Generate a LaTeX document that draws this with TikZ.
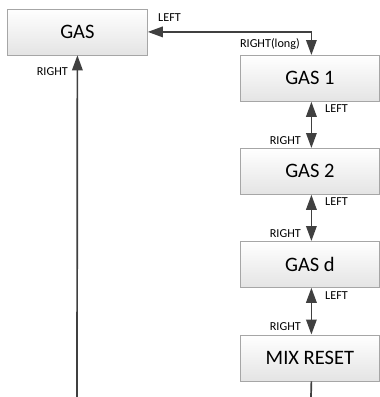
\documentclass[tikz,border=0pt]{standalone}
\usepackage{fontspec}
\setmainfont{Carlito}
\usetikzlibrary{arrows.meta}
\definecolor{boxborder}{HTML}{A6A6A6}
\definecolor{boxfill}{HTML}{E4E4E4}
\definecolor{linec}{HTML}{404040}
\begin{document}
\begin{tikzpicture}[x=1pt,y=-1pt,
  box/.style={draw=boxborder, line width=0.8pt, top color=white, bottom color=boxfill,
    minimum width=139pt, minimum height=46pt, inner sep=0pt, anchor=north west,
    font=\fontsize{20.5}{24}\selectfont},
  lbl/.style={font=\fontsize{12.2}{14}\selectfont, inner sep=0pt, text=black},
  conn/.style={draw=linec, line width=1.7pt},
  tip/.tip={Triangle[length=15pt,width=10.5pt]}]
\useasboundingbox (0,0) rectangle (380,397);
\fill[white] (0,0) rectangle (380,397);
\node[box, minimum width=140pt] (gas) at (7,8.5) {GAS};
\node[box] (g1) at (240,55) {GAS 1};
\node[box] (g2) at (240,148) {GAS 2};
\node[box] (gd) at (240,241) {GAS d};
\node[box] (mix) at (240,334.5) {MIX RESET};
\coordinate (lb) at (77,397);
\coordinate (rb) at (311,397);
\draw[conn,tip-tip] (gas.east) -| ([xshift=1.5pt]g1.north);
\draw[conn,tip-tip] ([xshift=1.5pt]g1.south) -- ([xshift=1.5pt]g2.north);
\draw[conn,tip-tip] ([xshift=1.5pt]g2.south) -- ([xshift=1.5pt]gd.north);
\draw[conn,tip-tip] ([xshift=1.5pt]gd.south) -- ([xshift=1.5pt]mix.north);
\draw[conn,-tip] (lb) -- (gas.south);
\draw[conn] ([xshift=1.5pt]mix.south) -- (rb);
\node[lbl,anchor=west] (tl) at (158,18) {LEFT};
\node[lbl,anchor=east] (tr) at (300,44) {RIGHT(long)};
\node[lbl,anchor=east] (lr) at (68,72) {RIGHT};
\node[lbl,anchor=west] (l1) at (325,109) {LEFT};
\node[lbl,anchor=east] (r1) at (301,141) {RIGHT};
\node[lbl,anchor=west] (l2) at (325,202) {LEFT};
\node[lbl,anchor=east] (r2) at (301,234) {RIGHT};
\node[lbl,anchor=west] (l3) at (325,296) {LEFT};
\node[lbl,anchor=east] (r3) at (301,327) {RIGHT};
\end{tikzpicture}
\end{document}
